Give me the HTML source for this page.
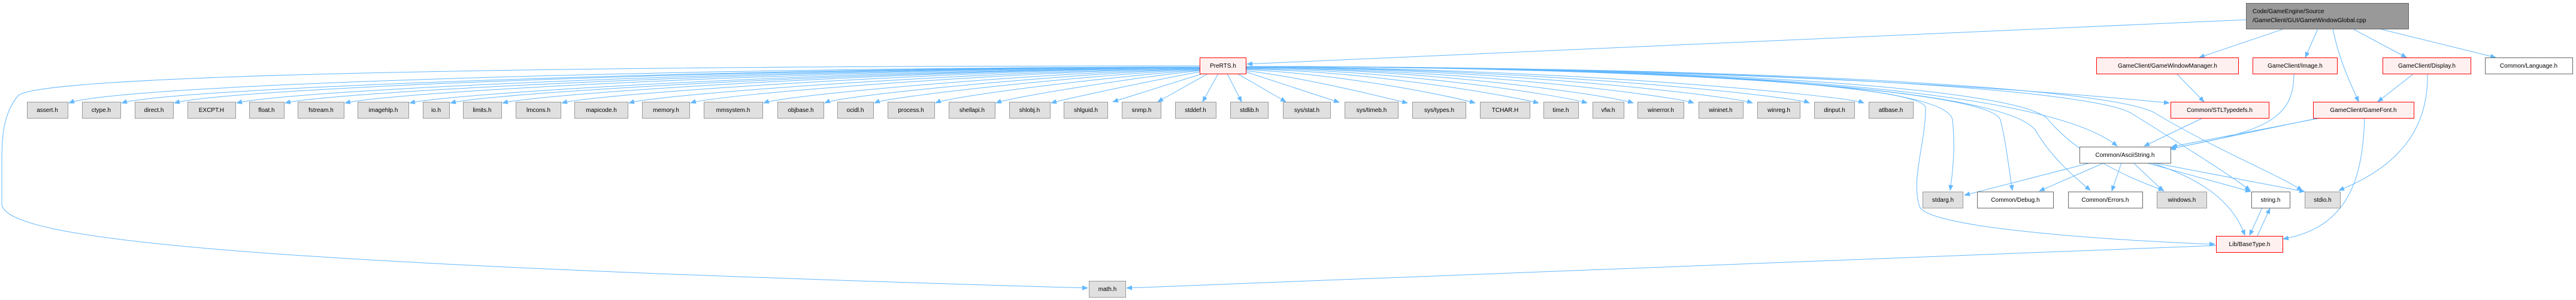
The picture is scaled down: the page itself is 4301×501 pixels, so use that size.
<!DOCTYPE html>
<html><head><meta charset="utf-8"><style>
html,body{margin:0;padding:0;background:#fff;}
svg{display:block;}
text{font-family:"Liberation Sans",sans-serif;font-size:10px;fill:#000;}
.g{fill:#e0e0e0;stroke:#999;stroke-width:1;}
.w{fill:#fff;stroke:#666;stroke-width:1;}
.r{fill:#fff0f0;stroke:#f00;stroke-width:1;}
.e{fill:none;stroke:#63b8ff;stroke-width:1;}
</style></head><body>
<svg width="4301" height="501" viewBox="0 0 4301 501" xmlns="http://www.w3.org/2000/svg">
<defs><marker id="a" markerWidth="10" markerHeight="8" refX="9" refY="4" orient="auto" markerUnits="userSpaceOnUse"><path d="M0,0 L10,4 L0,8 z" fill="#63b8ff"/></marker></defs>
<g class="e" marker-end="url(#a)">
<!-- root edges -->
<path d="M3750,33 L2082,107"/>
<path d="M3814,48 L3672,96"/>
<path d="M3870,48 L3849,96"/>
<path d="M3895,48 C3905,100 3925,140 3938,170"/>
<path d="M3928,48 L4018,96"/>
<path d="M3972,48 L4167,96"/>
<!-- left top row -->
<path d="M2003,112 C1200,112 200,140 115,172"/>
<path d="M2003,112 C1300,112 300,145 203,172"/>
<path d="M2003,112 C1300,113 400,145 291,172"/>
<path d="M2003,112 C1350,113 500,148 395,172"/>
<path d="M2003,112 C1400,113 580,150 476,172"/>
<path d="M2003,112 C1450,114 680,150 576,172"/>
<path d="M2003,113 C1500,114 780,152 684,172"/>
<path d="M2003,113 C1550,115 840,152 752,172"/>
<path d="M2003,113 C1550,116 920,154 839,172"/>
<path d="M2003,113 C1600,117 1010,155 938,172"/>
<path d="M2003,114 C1650,118 1110,156 1050,172"/>
<path d="M2003,114 C1700,119 1200,157 1153,172"/>
<path d="M2003,115 C1750,120 1315,158 1275,172"/>
<path d="M2003,115 C1800,122 1410,158 1377,172"/>
<path d="M2003,116 C1830,124 1490,160 1460,172"/>
<path d="M2003,117 C1860,127 1590,160 1562,172"/>
<path d="M2003,118 C1890,130 1690,162 1663,172"/>
<path d="M2003,120 C1920,135 1780,165 1755,172"/>
<path d="M2008,123 L1858,170"/>
<path d="M2017,123 L1933,170"/>
<path d="M2034,123 L2008,170"/>
<path d="M2049,123 L2073,170"/>
<path d="M2066,123 L2147,170"/>
<path d="M2080,120 L2236,171"/>
<!-- right top row -->
<path d="M2080,118 C2180,130 2300,160 2350,172"/>
<path d="M2080,116 C2250,125 2420,160 2463,172"/>
<path d="M2080,115 C2300,120 2520,160 2569,172"/>
<path d="M2080,114 C2350,118 2610,160 2650,172"/>
<path d="M2080,113 C2400,116 2690,160 2727,172"/>
<path d="M2080,113 C2450,115 2790,160 2828,172"/>
<path d="M2080,112 C2500,114 2890,160 2926,172"/>
<path d="M2080,112 C2550,113 2990,160 3021,172"/>
<path d="M2080,112 C2600,112 3080,160 3112,172"/>
<!-- PreRTS to lower right -->
<path d="M2080,111 C2900,112 3400,150 3622,172"/>
<path d="M2080,111 C2900,112 3420,150 3535,244"/>
<path d="M2080,111 C2800,112 3250,140 3260,200 C3265,250 3260,290 3256,318"/>
<path d="M2080,111 C2700,112 3210,140 3215,180 C3215,240 3190,300 3205,345 C3220,380 3500,400 3698,408"/>
<path d="M2080,111 C2800,112 3320,150 3340,200 C3350,240 3355,290 3360,318"/>
<path d="M2080,111 C2850,112 3360,150 3400,220 C3430,270 3470,300 3490,318"/>
<path d="M2080,111 C2900,112 3380,150 3420,200 C3470,260 3560,300 3613,318"/>
<path d="M2080,111 C2950,112 3500,150 3560,190 C3640,240 3720,290 3757,318"/>
<path d="M2080,111 C3000,112 3540,150 3600,190 C3700,250 3800,290 3844,318"/>
<!-- internal -->
<path d="M3634,123 L3680,170"/>
<path d="M3830,123 C3830,200 3780,220 3624,248"/>
<path d="M4030,123 L3970,170"/>
<path d="M4053,123 C4055,220 4000,280 3905,318"/>
<path d="M3875,197 L3626,245"/>
<path d="M3872,197 L3622,249"/>
<path d="M3948,197 C3945,300 3920,380 3812,399"/>
<path d="M3678,197 L3580,244"/>
<path d="M3490,272 L3280,326"/>
<path d="M3513,272 L3405,319"/>
<path d="M3542,272 L3526,319"/>
<path d="M3562,272 L3612,319"/>
<path d="M3584,272 L3758,320"/>
<path d="M3596,272 L3848,320"/>
<path d="M3592,272 C3680,300 3730,340 3748,393"/>
<path d="M3777,347 L3756,393"/>
<path d="M3769,394 L3790,348"/>
<path d="M3700,410 L1881,481"/>
<path d="M2003,110 C900,110 60,125 30,160 C5,190 3,230 3,270 L3,340 C3,400 400,440 1816,481"/>
</g>
<!-- nodes -->
<g>
<rect class="w" x="3750.5" y="5.5" width="271" height="43" style="fill:#999;stroke:#666"/>
<text x="3761" y="22">Code/GameEngine/Source</text>
<text x="3761" y="37">/GameClient/GUI/GameWindowGlobal.cpp</text>
<rect class="r" x="2003.5" y="96.5" width="77" height="27"/><text x="2042" y="113" text-anchor="middle">PreRTS.h</text>
<rect class="r" x="3500.5" y="96.5" width="237" height="27"/><text x="3619" y="113" text-anchor="middle">GameClient/GameWindowManager.h</text>
<rect class="r" x="3761.5" y="96.5" width="141" height="27"/><text x="3832" y="113" text-anchor="middle">GameClient/Image.h</text>
<rect class="r" x="3978.5" y="96.5" width="147" height="27"/><text x="4052" y="113" text-anchor="middle">GameClient/Display.h</text>
<rect class="w" x="4149.5" y="96.5" width="146" height="27"/><text x="4222" y="113" text-anchor="middle">Common/Language.h</text>
<rect class="r" x="3624.5" y="170.5" width="164" height="27"/><text x="3706" y="187" text-anchor="middle">Common/STLTypedefs.h</text>
<rect class="r" x="3862.5" y="170.5" width="168" height="27"/><text x="3946" y="187" text-anchor="middle">GameClient/GameFont.h</text>
<rect class="w" x="3472.5" y="245.5" width="152" height="27"/><text x="3548" y="262" text-anchor="middle">Common/AsciiString.h</text>
<rect class="g" x="3210.5" y="320.5" width="67" height="27"/><text x="3244" y="337" text-anchor="middle">stdarg.h</text>
<rect class="w" x="3301.5" y="320.5" width="127" height="27"/><text x="3365" y="337" text-anchor="middle">Common/Debug.h</text>
<rect class="w" x="3453.5" y="320.5" width="124" height="27"/><text x="3515" y="337" text-anchor="middle">Common/Errors.h</text>
<rect class="g" x="3601.5" y="320.5" width="83" height="27"/><text x="3643" y="337" text-anchor="middle">windows.h</text>
<rect class="w" x="3759.5" y="320.5" width="64" height="27"/><text x="3791" y="337" text-anchor="middle">string.h</text>
<rect class="g" x="3848.5" y="320.5" width="59" height="27"/><text x="3878" y="337" text-anchor="middle">stdio.h</text>
<rect class="r" x="3700.5" y="394.5" width="111" height="27"/><text x="3756" y="411" text-anchor="middle">Lib/BaseType.h</text>
<rect class="g" x="1818.5" y="469.5" width="61" height="27"/><text x="1849" y="486" text-anchor="middle">math.h</text>
</g>
<g>
<rect class="g" x="45.5" y="170.5" width="68" height="27"/><text x="79" y="187" text-anchor="middle">assert.h</text>
<rect class="g" x="137.5" y="170.5" width="64" height="27"/><text x="169" y="187" text-anchor="middle">ctype.h</text>
<rect class="g" x="225.5" y="170.5" width="64" height="27"/><text x="257" y="187" text-anchor="middle">direct.h</text>
<rect class="g" x="313.5" y="170.5" width="80" height="27"/><text x="353" y="187" text-anchor="middle">EXCPT.H</text>
<rect class="g" x="416.5" y="170.5" width="58" height="27"/><text x="445" y="187" text-anchor="middle">float.h</text>
<rect class="g" x="497.5" y="170.5" width="77" height="27"/><text x="536" y="187" text-anchor="middle">fstream.h</text>
<rect class="g" x="597.5" y="170.5" width="85" height="27"/><text x="640" y="187" text-anchor="middle">imagehlp.h</text>
<rect class="g" x="706.5" y="170.5" width="44" height="27"/><text x="728" y="187" text-anchor="middle">io.h</text>
<rect class="g" x="773.5" y="170.5" width="64" height="27"/><text x="805" y="187" text-anchor="middle">limits.h</text>
<rect class="g" x="861.5" y="170.5" width="75" height="27"/><text x="899" y="187" text-anchor="middle">lmcons.h</text>
<rect class="g" x="959.5" y="170.5" width="89" height="27"/><text x="1004" y="187" text-anchor="middle">mapicode.h</text>
<rect class="g" x="1072.5" y="170.5" width="79" height="27"/><text x="1112" y="187" text-anchor="middle">memory.h</text>
<rect class="g" x="1175.5" y="170.5" width="98" height="27"/><text x="1224" y="187" text-anchor="middle">mmsystem.h</text>
<rect class="g" x="1298.5" y="170.5" width="77" height="27"/><text x="1337" y="187" text-anchor="middle">objbase.h</text>
<rect class="g" x="1398.5" y="170.5" width="60" height="27"/><text x="1428" y="187" text-anchor="middle">ocidl.h</text>
<rect class="g" x="1482.5" y="170.5" width="78" height="27"/><text x="1521" y="187" text-anchor="middle">process.h</text>
<rect class="g" x="1584.5" y="170.5" width="77" height="27"/><text x="1623" y="187" text-anchor="middle">shellapi.h</text>
<rect class="g" x="1685.5" y="170.5" width="68" height="27"/><text x="1719" y="187" text-anchor="middle">shlobj.h</text>
<rect class="g" x="1776.5" y="170.5" width="73" height="27"/><text x="1813" y="187" text-anchor="middle">shlguid.h</text>
<rect class="g" x="1873.5" y="170.5" width="65" height="27"/><text x="1906" y="187" text-anchor="middle">snmp.h</text>
<rect class="g" x="1962.5" y="170.5" width="68" height="27"/><text x="1996" y="187" text-anchor="middle">stddef.h</text>
<rect class="g" x="2054.5" y="170.5" width="63" height="27"/><text x="2086" y="187" text-anchor="middle">stdlib.h</text>
<rect class="g" x="2142.5" y="170.5" width="79" height="27"/><text x="2182" y="187" text-anchor="middle">sys/stat.h</text>
<rect class="g" x="2245.5" y="170.5" width="89" height="27"/><text x="2290" y="187" text-anchor="middle">sys/timeb.h</text>
<rect class="g" x="2358.5" y="170.5" width="89" height="27"/><text x="2403" y="187" text-anchor="middle">sys/types.h</text>
<rect class="g" x="2471.5" y="170.5" width="83" height="27"/><text x="2513" y="187" text-anchor="middle">TCHAR.H</text>
<rect class="g" x="2577.5" y="170.5" width="58" height="27"/><text x="2606" y="187" text-anchor="middle">time.h</text>
<rect class="g" x="2659.5" y="170.5" width="52" height="27"/><text x="2685" y="187" text-anchor="middle">vfw.h</text>
<rect class="g" x="2734.5" y="170.5" width="77" height="27"/><text x="2773" y="187" text-anchor="middle">winerror.h</text>
<rect class="g" x="2836.5" y="170.5" width="74" height="27"/><text x="2873" y="187" text-anchor="middle">wininet.h</text>
<rect class="g" x="2934.5" y="170.5" width="71" height="27"/><text x="2970" y="187" text-anchor="middle">winreg.h</text>
<rect class="g" x="3029.5" y="170.5" width="67" height="27"/><text x="3063" y="187" text-anchor="middle">dinput.h</text>
<rect class="g" x="3120.5" y="170.5" width="74" height="27"/><text x="3157" y="187" text-anchor="middle">atlbase.h</text>
</g>
</svg>
</body></html>
